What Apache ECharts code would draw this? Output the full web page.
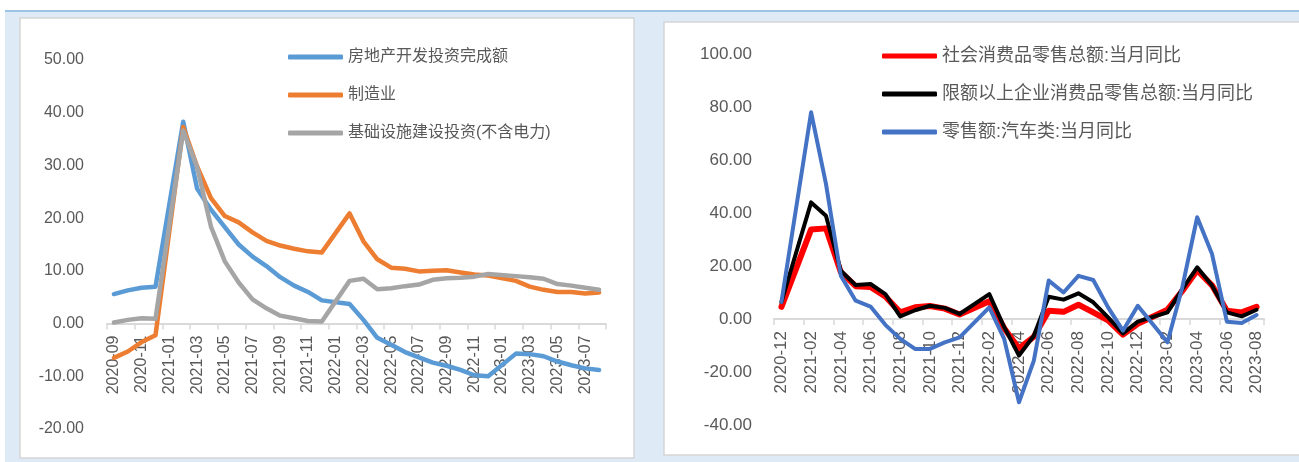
<!DOCTYPE html>
<html>
<head>
<meta charset="utf-8">
<script src="https://cdn.jsdelivr.net/npm/echarts@6/dist/echarts.min.js"></script>
<style>
  html, body { margin: 0; padding: 0; background: #ffffff; }
  #charts { width: 1299px; height: 462px; }
</style>
</head>
<body>
<div id="charts"></div>
<script>
// 左图：固定资产投资累计同比（1月无数据，用 null）
var leftMonths = ['2020-09','2020-10','2020-11','2020-12','2021-01','2021-02','2021-03','2021-04','2021-05','2021-06',
    '2021-07','2021-08','2021-09','2021-10','2021-11','2021-12','2022-01','2022-02','2022-03','2022-04',
    '2022-05','2022-06','2022-07','2022-08','2022-09','2022-10','2022-11','2022-12','2023-01','2023-02',
    '2023-03','2023-04','2023-05','2023-06','2023-07','2023-08'];
var realEstate = [5.6,6.3,6.8,7.0,null,38.3,25.6,21.6,18.3,15.0,12.7,10.9,8.8,7.2,6.0,4.4,null,3.7,0.7,-2.7,
    -4.0,-5.4,-6.4,-7.4,-8.0,-8.8,-9.8,-10.0,null,-5.7,-5.8,-6.2,-7.2,-7.9,-8.5,-8.8];
var manufacturing = [-6.5,-5.3,-3.5,-2.2,null,37.3,29.8,23.8,20.4,19.2,17.3,15.7,14.8,14.2,13.7,13.5,null,20.9,15.6,12.2,
    10.6,10.4,9.9,10.0,10.1,9.7,9.3,9.1,null,8.1,7.0,6.4,6.0,6.0,5.7,5.9];
var infra = [0.2,0.7,1.0,0.9,null,36.6,29.7,18.4,11.8,7.8,4.6,2.9,1.5,1.0,0.5,0.4,null,8.1,8.5,6.5,
    6.7,7.1,7.4,8.3,8.6,8.7,8.9,9.4,null,9.0,8.8,8.5,7.5,7.2,6.8,6.4];

// 右图：消费当月同比
var rightMonths = ['2020-12','2021-01','2021-02','2021-03','2021-04','2021-05','2021-06','2021-07','2021-08','2021-09',
    '2021-10','2021-11','2021-12','2022-01','2022-02','2022-03','2022-04','2022-05','2022-06','2022-07',
    '2022-08','2022-09','2022-10','2022-11','2022-12','2023-01','2023-02','2023-03','2023-04','2023-05',
    '2023-06','2023-07','2023-08'];
var retail = [4.6,null,33.8,34.2,17.7,12.4,12.1,8.5,2.5,4.4,4.9,3.9,1.7,null,6.7,-3.5,-11.1,-6.7,3.1,2.7,
    5.4,2.5,-0.5,-5.9,-1.8,null,3.5,10.6,18.4,12.7,3.1,2.5,4.6];
var retailAbove = [6.4,null,44.0,39.0,18.2,12.8,13.2,9.4,1.0,3.3,5.0,4.2,1.9,null,9.4,-3.0,-13.8,-6.3,8.4,7.3,
    9.7,6.3,0.6,-5.4,-1.0,null,2.5,11.3,19.5,12.6,2.5,1.0,3.5];
var autoSales = [6.4,null,78.0,51.0,16.3,6.9,4.7,-2.2,-7.5,-11.3,-11.3,-8.8,-6.9,null,4.4,-7.5,-31.4,-15.7,14.5,10.0,
    16.3,14.7,4.4,-4.4,5.0,null,-8.8,12.0,38.4,24.5,-1.0,-1.5,1.5];

var leftNames = ['房地产开发投资完成额', '制造业', '基础设施建设投资(不含电力)'];
var rightNames = ['社会消费品零售总额:当月同比', '限额以上企业消费品零售总额:当月同比', '零售额:汽车类:当月同比'];

var textColor = '#595959';
var fontFam = '"Liberation Sans", "Noto Sans CJK SC", sans-serif';

var chart = echarts.init(document.getElementById('charts'));

var leftGrid = { left: 107, right: 693, top: 60, bottom: 33, containLabel: false, outerBoundsMode: 'none' };
var rightGrid = { left: 774, right: 35, top: 54, bottom: 37, containLabel: false, outerBoundsMode: 'none' };

function lineSeries(name, data, color, width, xi) {
    return {
        name: name,
        type: 'line',
        data: data,
        xAxisIndex: xi,
        yAxisIndex: xi,
        symbol: 'none',
        connectNulls: true,
        color: color,
        lineStyle: { color: color, width: width, cap: 'round', join: 'round' }
    };
}

// 类目轴放在 0 值处（Excel 的样式）
function catAxis(cats, gi, size, grid, min, max) {
    var h = 462 - grid.top - grid.bottom;
    return {
        type: 'category',
        gridIndex: gi,
        data: cats,
        boundaryGap: true,
        offset: -h * (0 - min) / (max - min),
        axisLine: { onZero: false, lineStyle: { color: '#d9d9d9', width: 2 } },
        axisTick: { show: true, interval: 1, length: 6, lineStyle: { color: '#d9d9d9', width: 1.5 } },
        axisLabel: { interval: 1, rotate: 90, margin: 12, color: textColor, fontSize: size, fontFamily: fontFam }
    };
}

function valAxis(gi, min, max, step, size, margin) {
    return {
        type: 'value',
        gridIndex: gi,
        min: min,
        max: max,
        interval: step,
        axisLine: { show: false },
        axisTick: { show: false },
        splitLine: { show: false },
        axisLabel: {
            margin: margin, color: textColor, fontSize: size, fontFamily: fontFam,
            formatter: function (v) { return v.toFixed(2); }
        }
    };
}

var option = {
    animation: false,
    graphic: [
        { type: 'rect', z: -10, shape: { x: 5, y: 10, width: 1294, height: 452 }, style: { fill: '#deebf7' } },
        { type: 'rect', z: -9, shape: { x: 5, y: 10, width: 1294, height: 2 }, style: { fill: '#9dc3e6' } },
        { type: 'rect', z: -8, shape: { x: 20, y: 18, width: 614, height: 440 }, style: { fill: '#ffffff', stroke: '#d6d6d6', lineWidth: 1.5 } },
        { type: 'rect', z: -8, shape: { x: 664, y: 22, width: 640, height: 433 }, style: { fill: '#ffffff', stroke: '#d6d6d6', lineWidth: 1.5 } }
    ],
    legend: [
        {
            data: leftNames,
            orient: 'vertical',
            left: 283,
            top: 42,
            icon: 'roundRect',
            itemWidth: 55,
            itemHeight: 5,
            itemGap: 18,
            textStyle: { color: textColor, fontSize: 16, lineHeight: 20, fontFamily: fontFam }
        },
        {
            data: rightNames,
            orient: 'vertical',
            left: 877,
            top: 40,
            icon: 'roundRect',
            itemWidth: 55,
            itemHeight: 5,
            itemGap: 16,
            textStyle: { color: textColor, fontSize: 18, lineHeight: 22, fontFamily: fontFam }
        }
    ],
    grid: [leftGrid, rightGrid],
    xAxis: [catAxis(leftMonths, 0, 16, leftGrid, -20, 50), catAxis(rightMonths, 1, 17, rightGrid, -40, 100)],
    yAxis: [valAxis(0, -20, 50, 10, 16, 23), valAxis(1, -40, 100, 20, 17, 22)],
    series: [
        lineSeries(leftNames[0], realEstate, '#5b9bd5', 4.5, 0),
        lineSeries(leftNames[1], manufacturing, '#ed7d31', 4.5, 0),
        lineSeries(leftNames[2], infra, '#a5a5a5', 4.5, 0),
        lineSeries(rightNames[0], retail, '#ff0000', 6, 1),
        lineSeries(rightNames[1], retailAbove, '#000000', 4, 1),
        lineSeries(rightNames[2], autoSales, '#4472c4', 4, 1)
    ]
};

chart.setOption(option);
</script>
</body>
</html>
